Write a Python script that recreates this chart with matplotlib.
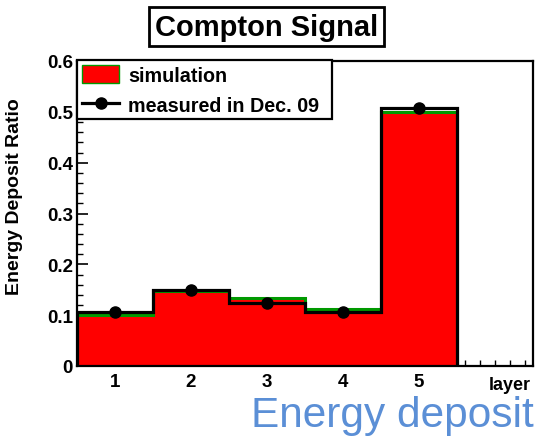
import matplotlib
matplotlib.use("Agg")
import matplotlib.pyplot as plt
import numpy as np
from matplotlib.patches import Patch
from matplotlib.lines import Line2D
from matplotlib.ticker import MultipleLocator, FixedLocator

plt.rcParams['font.family'] = ['Liberation Sans', 'DejaVu Sans']

layers = [1, 2, 3, 4, 5]
layer_labels = ["1", "2", "3", "4", "5"]
simulation = [0.101, 0.148, 0.134, 0.113, 0.499]
measured = [0.106, 0.149, 0.123, 0.106, 0.508]

W, H = 539, 439
fig = plt.figure(figsize=(W / 100, H / 100), dpi=100)
ax = fig.add_axes([77 / W, (H - 367) / H, (533 - 77) / W, (367 - 62) / H])

edges = np.arange(0.5, len(layers) + 1.0, 1.0)
ax.stairs(simulation, edges, fill=True, facecolor='#ff0000', edgecolor='#009900',
          linewidth=2.2, baseline=0, zorder=2)
ax.stairs(measured, edges, color='black', linewidth=2.3, baseline=0, zorder=3)
ax.plot(layers, measured, 'o', color='black', markersize=8, zorder=4)

ax.set_xlim(0.5, 6.5)
ax.set_ylim(0, 0.6)

# x axis: bin edges as major ticks, fine minor ticks, labels at bin centres
ax.xaxis.set_major_locator(FixedLocator(np.arange(0.5, 6.6, 1.0)))
ax.xaxis.set_minor_locator(MultipleLocator(0.2))
ax.set_xticklabels([])
ax.tick_params(axis='x', which='major', direction='in', length=8, width=1.2, top=False)
ax.tick_params(axis='x', which='minor', direction='in', length=4, width=1.0, top=False)
sec = ax.secondary_xaxis('bottom')
sec.set_xticks(layers)
sec.set_xticklabels(layer_labels, fontsize=13.5, fontweight='bold')
sec.tick_params(length=0, pad=5)
sec.spines['bottom'].set_visible(False)

ax.yaxis.set_major_locator(MultipleLocator(0.1))
ax.yaxis.set_minor_locator(MultipleLocator(0.02))
ax.set_yticks([0, 0.1, 0.2, 0.3, 0.4, 0.5, 0.6])
ax.set_yticklabels(["0", "0.1", "0.2", "0.3", "0.4", "0.5", "0.6"],
                   fontsize=13.5, fontweight='bold')
ax.tick_params(axis='y', which='major', direction='in', length=8, width=1.2, right=False, pad=3)
ax.tick_params(axis='y', which='minor', direction='in', length=4, width=1.0, right=False)

for s in ax.spines.values():
    s.set_linewidth(1.6)

ax.set_ylabel("Energy Deposit Ratio", fontsize=14, fontweight='bold')
ax.yaxis.set_label_coords(-0.118, 0.557)

fig.text(531 / W, 1 - 386 / H, "layer", ha='right', va='center',
         fontsize=13, fontweight='bold')

fig.text(266.5 / W, 1 - 27.5 / H, "Compton Signal", ha='center', va='center',
         fontsize=21, fontweight='bold',
         bbox=dict(boxstyle='square,pad=0.2', facecolor='white', edgecolor='black', linewidth=2))

handles = [Patch(facecolor='#ff0000', edgecolor='#009900', linewidth=1),
           Line2D([0], [0], color='black', linewidth=2.3, marker='o', markersize=8)]
leg = fig.legend(handles, ["simulation", "measured in Dec. 09"],
                 loc='upper left',
                 bbox_to_anchor=(77 / W, 1 - 118 / H, (332 - 77) / W, (118 - 61) / H),
                 bbox_transform=fig.transFigure, mode='expand', borderaxespad=0,
                 fancybox=False, framealpha=1, edgecolor='black',
                 prop=dict(weight='bold', size=14.2), handlelength=1.9, handleheight=1.05,
                 labelspacing=0.5, borderpad=0.25, handletextpad=0.45)
leg.get_frame().set_linewidth(1.6)

fig.text(534 / W, 1 - 427 / H, "Energy deposit", ha='right', va='baseline',
         fontsize=30.5, color='#5B8FD6')

fig.savefig("out.png", dpi=100)
